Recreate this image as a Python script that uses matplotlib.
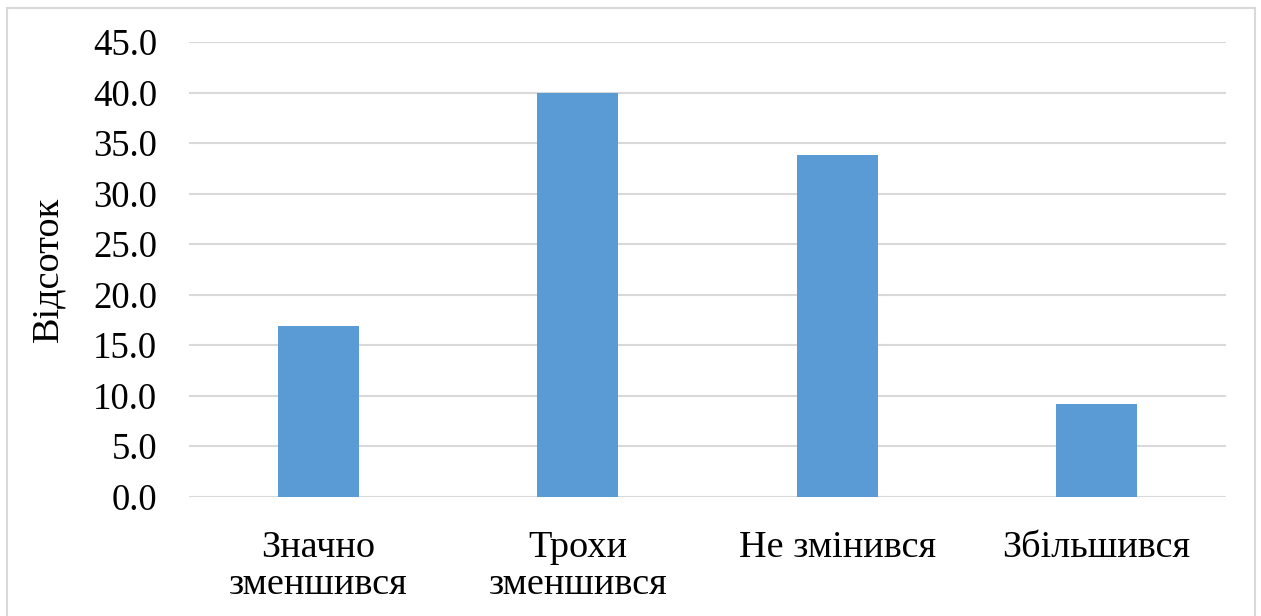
import matplotlib.pyplot as plt
from matplotlib.patches import Rectangle
from matplotlib.ticker import MultipleLocator, FormatStrFormatter

categories = ['Значно\nзменшився', 'Трохи\nзменшився', 'Не змінився', 'Збільшився']
percent = [16.9, 40.0, 33.8, 9.2]

plt.rcParams['font.family'] = ['Liberation Serif', 'DejaVu Serif']

fig = plt.figure(figsize=(12.61, 6.16), dpi=100)
ax = fig.add_axes([0.1499, 0.1937, 0.8223, 0.7381])

# grey chart-area frame
fig.patches.append(Rectangle((7 / 1261, -0.01), 1248 / 1261, 1 - 8 / 616 + 0.01,
                             transform=fig.transFigure, fill=False,
                             edgecolor='#D9D9D9', linewidth=1.5))

x = range(len(categories))
ax.bar(x, percent, width=0.312, color='#5B9BD5', zorder=3)

ax.set_xlim(-0.5, len(categories) - 0.5)
ax.set_ylim(0, 45)
ax.yaxis.set_major_locator(MultipleLocator(5))
ax.yaxis.set_major_formatter(FormatStrFormatter('%.1f'))
ax.grid(axis='y', color='#D9D9D9', linewidth=1.5, zorder=0)
ax.set_axisbelow(True)

for s in ax.spines.values():
    s.set_visible(False)

ax.set_xticks(list(x))
ax.set_xticklabels(categories, linespacing=1.07)
ax.tick_params(axis='both', length=0)
ax.tick_params(axis='y', pad=23, labelsize=26.5)
ax.tick_params(axis='x', pad=24.5, labelsize=27.5)

ax.set_ylabel('Відсоток', fontsize=27.5, labelpad=20)

fig.savefig('out.png', dpi=100)
